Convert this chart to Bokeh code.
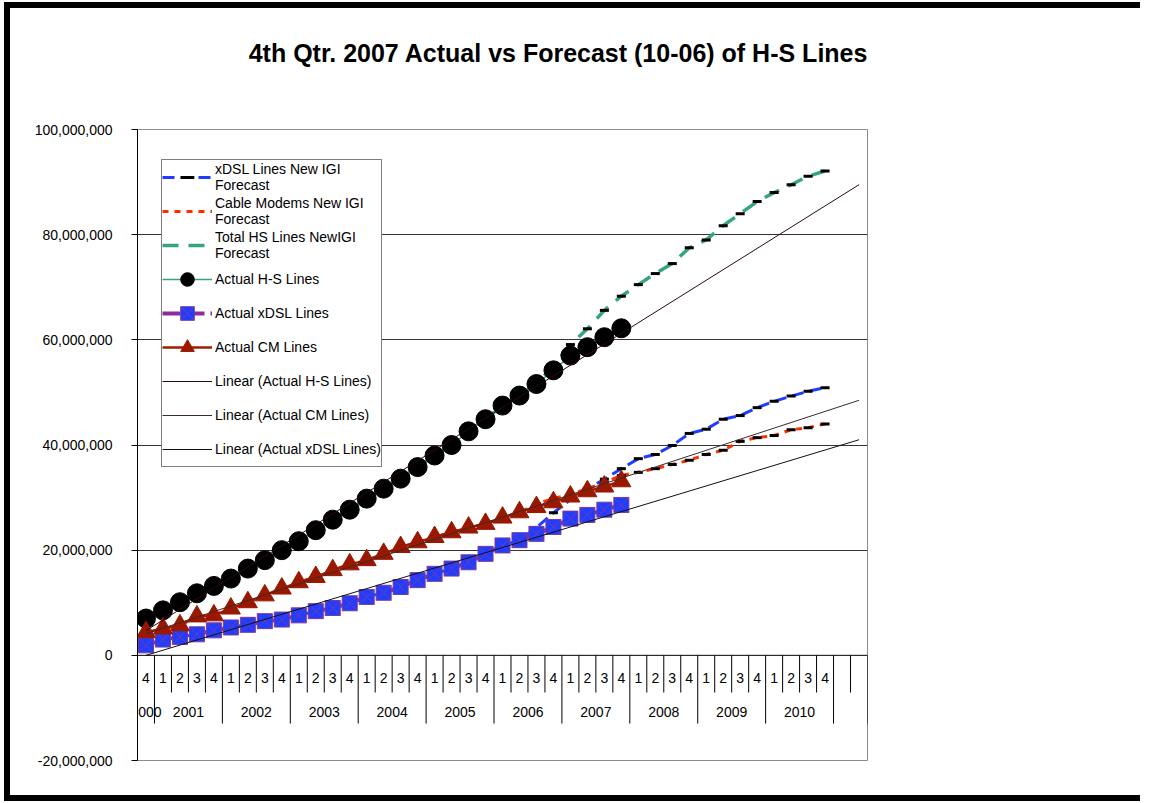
from bokeh.plotting import figure
from bokeh.layouts import column
from bokeh.models import (Range1d, FixedTicker, NumeralTickFormatter, Legend, LegendItem,
                          LabelSet, ColumnDataSource, Span, LinearAxis)
from bokeh.core.properties import value
from bokeh.embed import file_html
from bokeh.resources import INLINE

# ---------------- data (millions of lines) ----------------
quarters = ["4", "1", "2", "3", "4", "1", "2", "3", "4", "1", "2", "3", "4",
            "1", "2", "3", "4", "1", "2", "3", "4", "1", "2", "3", "4",
            "1", "2", "3", "4", "1", "2", "3", "4", "1", "2", "3", "4",
            "1", "2", "3", "4", "", ""]
years = ["2000", "2001", "2002", "2003", "2004", "2005",
         "2006", "2007", "2008", "2009", "2010"]

actual_hs = [7.0, 8.55, 10.1, 11.8, 13.2, 14.6, 16.5, 18.1, 20.0, 21.7,
             23.8, 25.8, 27.7, 29.8, 31.7, 33.6, 35.8, 38.0, 40.0, 42.6,
             44.9, 47.5, 49.4, 51.6, 54.2, 57.0, 58.6, 60.5, 62.2]
actual_cm = [4.4, 5.1, 5.7, 7.4, 7.6, 8.9, 10.1, 11.4, 12.7, 13.9,
             14.9, 16.2, 17.3, 18.1, 19.3, 20.6, 21.5, 22.5, 23.4, 24.3,
             25.0, 26.2, 27.2, 28.2, 29.1, 30.2, 31.2, 32.1, 33.1]
actual_xdsl = [1.9, 3.0, 3.5, 4.0, 4.75, 5.3, 5.8, 6.5, 6.8, 7.6,
               8.4, 9.0, 9.9, 11.1, 11.9, 13.0, 14.3, 15.5, 16.5, 17.7,
               19.3, 20.9, 21.9, 23.1, 24.4, 26.0, 26.7, 27.7, 28.6]

fc_xdsl = [1.9, 3.0, 3.5, 4.0, 4.75, 5.3, 5.8, 6.5, 6.8, 7.6,
           8.4, 9.0, 9.9, 11.1, 11.9, 13.0, 14.3, 15.5, 16.5, 17.7,
           19.3, 20.9, 21.9, 24.3, 27.1, 29.6, 31.6, 33.5, 35.5, 37.4,
           38.2, 39.9, 42.2, 43.0, 44.9, 45.6, 47.1, 48.3, 49.3, 50.2, 50.9]
fc_cm = [4.4, 5.1, 5.7, 7.4, 7.6, 8.9, 10.1, 11.4, 12.7, 13.9,
         14.9, 16.2, 17.3, 18.1, 19.3, 20.6, 21.5, 22.5, 23.4, 24.3,
         25.0, 26.2, 27.2, 28.8, 29.8, 30.6, 31.7, 32.9, 34.2, 34.8,
         35.5, 36.3, 37.1, 38.2, 39.0, 40.7, 41.4, 41.8, 42.9, 43.3, 44.0]
fc_total = [7.0, 8.55, 10.1, 11.8, 13.2, 14.6, 16.5, 18.1, 20.0, 21.7,
            23.8, 25.8, 27.7, 29.8, 31.7, 33.6, 35.8, 38.0, 40.0, 42.6,
            44.9, 47.5, 49.4, 51.6, 55.0, 59.1, 62.1, 65.6, 68.3, 70.5,
            72.6, 74.5, 77.5, 79.0, 81.7, 84.0, 86.3, 88.0, 89.5, 91.1, 92.1]

# linear trend lines (first period -> end of forward projection)
trend_x = [0, 42]
trend_hs = [4.7, 89.5]
trend_cm = [4.1, 48.5]
trend_xdsl = [0.0, 41.0]

y_ticks = [-20, 0, 20, 40, 60, 80, 100]
grid_vals = [20, 40, 60, 80]
title_text = "4th Qtr. 2007 Actual vs Forecast (10-06) of H-S Lines"

M = 1e6
def sc(v):
    return [a * M for a in v]

x_act = list(range(len(actual_hs)))
x_fc = list(range(len(fc_total)))

FONT = "Liberation Sans"

p = figure(width=1130, height=787, output_backend="svg", toolbar_location=None,
           x_range=Range1d(-0.5, len(quarters) - 0.5), y_range=Range1d(-20 * M, 100 * M),
           x_axis_location=None, title=None,
           min_border_left=127, min_border_right=273, min_border_top=121, min_border_bottom=35)
p.background_fill_color = "white"
p.border_fill_color = "white"
p.outline_line_color = "#8c8c8c"
p.outline_line_width = 1
p.xgrid.visible = False
p.ygrid.ticker = FixedTicker(ticks=sc(grid_vals))
p.ygrid.grid_line_color = "#333333"
p.ygrid.grid_line_width = 1

# chart title, centred over the chart area
t_axis = LinearAxis(ticker=FixedTicker(ticks=[24.3]), major_label_overrides={24.3: title_text},
                    axis_line_color=None, major_tick_line_color=None, minor_tick_line_color=None,
                    major_tick_out=0, major_tick_in=0, major_label_standoff=63,
                    major_label_text_font=FONT, major_label_text_font_size="25px",
                    major_label_text_font_style="bold", major_label_text_color="black")
p.add_layout(t_axis, "above")

ax = p.yaxis[0]
ax.ticker = FixedTicker(ticks=sc(y_ticks))
ax.formatter = NumeralTickFormatter(format="0,0")
ax.major_label_text_font = FONT
ax.major_label_text_font_size = "14px"
ax.major_label_text_color = "black"
ax.axis_line_color = "black"
ax.major_tick_in = 0
ax.major_tick_out = 6
ax.major_tick_line_color = "black"
ax.minor_tick_line_color = None
ax.major_label_standoff = 19

# category axis at zero
p.add_layout(Span(location=0, dimension="width", line_color="black", line_width=1))
sep_x, sep_y = [], []
for i in range(len(quarters) - 1):
    sep_x.append(i + 0.5)
    sep_y.append(-12.97 * M if quarters[i] == "4" else -7.07 * M)
sep_x.append(len(quarters) - 0.5)
sep_y.append(-13.0 * M)
p.segment(x0=sep_x, y0=[0] * len(sep_x), x1=sep_x, y1=sep_y, line_color="black", line_width=1)

q_src = ColumnDataSource(dict(x=list(range(len(quarters))), y=[-4.4 * M] * len(quarters), t=quarters))
p.add_layout(LabelSet(x="x", y="y", text="t", source=q_src, text_align="center",
                      text_baseline="middle", text_font=value(FONT), text_font_size=value("14px"),
                      text_color="black"))
yr_x, cur = [], []
for i, q in enumerate(quarters):
    if q == "":
        continue
    if q == "1" and cur:
        yr_x.append(sum(cur) / len(cur))
        cur = []
    cur.append(i)
yr_x.append(sum(cur) / len(cur))
y_src = ColumnDataSource(dict(x=yr_x, y=[-10.7 * M] * len(yr_x), t=years))
p.add_layout(LabelSet(x="x", y="y", text="t", source=y_src, text_align="center",
                      text_baseline="middle", text_font=value(FONT), text_font_size=value("14px"),
                      text_color="black"))

# forecasts
BLUE, RED, GREEN = "#1f3cff", "#ff2d00", "#34a67a"
r_fx = p.line(x_fc, sc(fc_xdsl), line_color=BLUE, line_width=3, line_dash="12 6")
m_fx = p.scatter(x_fc, sc(fc_xdsl), marker="dash", size=9, line_color="black", line_width=3)
r_fc = p.line(x_fc, sc(fc_cm), line_color=RED, line_width=3, line_dash="6 6")
m_fc = p.scatter(x_fc, sc(fc_cm), marker="dash", size=9, line_color="black", line_width=3)
r_ft = p.line(x_fc, sc(fc_total), line_color=GREEN, line_width=3.5, line_dash="16 10")
m_ft = p.scatter(x_fc, sc(fc_total), marker="dash", size=9, line_color="black", line_width=3)

# actuals
r_ah = p.line(x_act, sc(actual_hs), line_color=GREEN, line_width=1.5)
m_ah = p.scatter(x_act, sc(actual_hs), marker="circle", size=19, fill_color="black", line_color="black")
r_ax = p.line(x_act, sc(actual_xdsl), line_color="#8e2a9e", line_width=4, line_dash="18 6")
m_ax = p.scatter(x_act, sc(actual_xdsl), marker="square_x", size=15, fill_color="#1f3dff",
                 line_color="#7a3aa0", line_width=1)
r_ac = p.line(x_act, sc(actual_cm), line_color="#a01c00", line_width=2.5)
m_ac = p.scatter(x_act, sc(actual_cm), marker="triangle", size=19, fill_color="#9a1800",
                 line_color="#9a1800")

# trend lines
r_th = p.line(trend_x, sc(trend_hs), line_color="#2a0a0a", line_width=1)
r_tc = p.line(trend_x, sc(trend_cm), line_color="#3a2a2a", line_width=1)
r_tx = p.line(trend_x, sc(trend_xdsl), line_color="#111111", line_width=1)

legend = Legend(items=[
    LegendItem(label="xDSL Lines New IGI\nForecast", renderers=[r_fx, m_fx]),
    LegendItem(label="Cable Modems New IGI\nForecast", renderers=[r_fc]),
    LegendItem(label="Total HS Lines NewIGI\nForecast", renderers=[r_ft]),
    LegendItem(label="Actual H-S Lines", renderers=[r_ah, m_ah]),
    LegendItem(label="Actual xDSL Lines", renderers=[r_ax, m_ax]),
    LegendItem(label="Actual CM Lines", renderers=[r_ac, m_ac]),
    LegendItem(label="Linear (Actual H-S Lines)", renderers=[r_th]),
    LegendItem(label="Linear (Actual CM Lines)", renderers=[r_tc]),
    LegendItem(label="Linear (Actual xDSL Lines)", renderers=[r_tx]),
], location=(24, 293))
legend.label_text_font = FONT
legend.label_text_font_size = "14px"
legend.label_text_color = "black"
legend.label_text_line_height = 1.25
legend.glyph_width = 50
legend.glyph_height = 34
legend.label_height = 20
legend.label_standoff = 3
legend.spacing = 0
legend.padding = 0
legend.margin = 0
legend.border_line_color = "black"
legend.border_line_width = 1
legend.background_fill_color = "white"
legend.background_fill_alpha = 1
p.add_layout(legend)

page = column(p, styles={"box-sizing": "content-box", "margin-left": "4px", "margin-top": "2px",
                         "border-left": "6px solid black", "border-top": "6px solid black",
                         "border-bottom": "6px solid black", "border-right": "0px none"})

open("out.html", "w").write(file_html(page, INLINE))
